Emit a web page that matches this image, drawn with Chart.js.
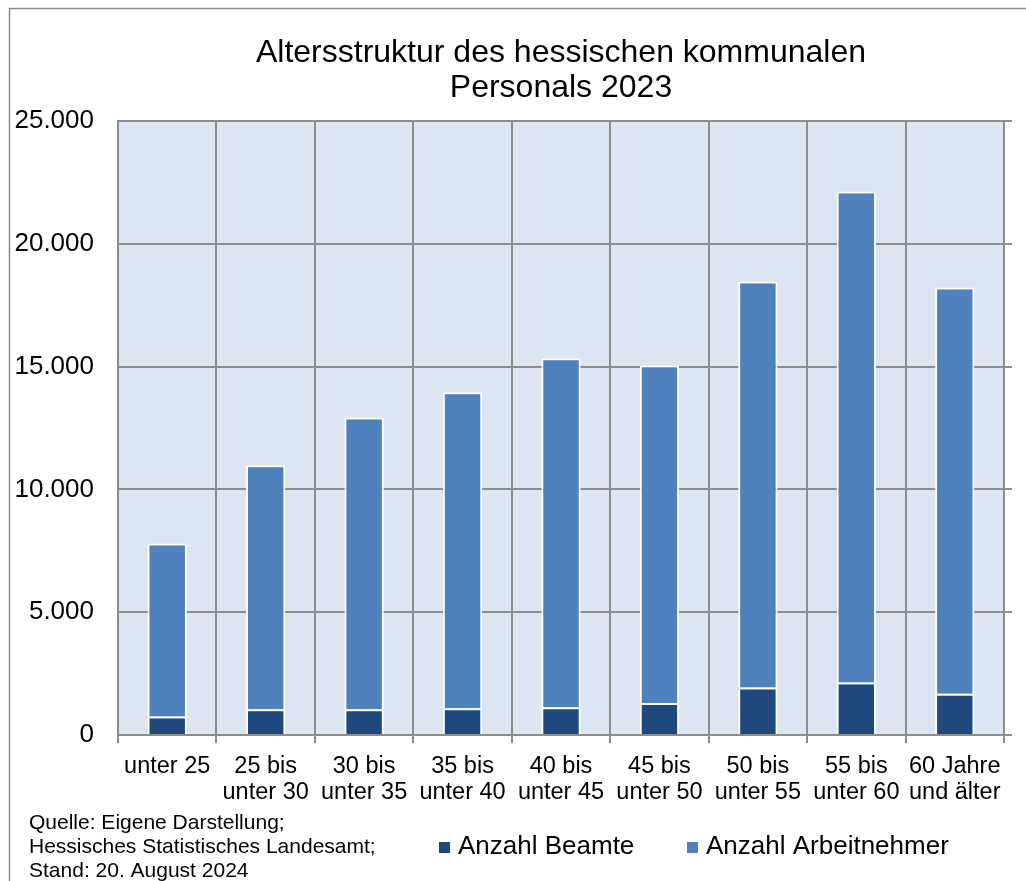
<!DOCTYPE html>
<html>
<head>
<meta charset="utf-8">
<script src="https://cdn.jsdelivr.net/npm/chart.js@4.4.1/dist/chart.umd.min.js"></script>
<style>
  html, body { margin: 0; padding: 0; background: #fff; }
  #wrap { width: 1026px; height: 881px; }
</style>
</head>
<body>
<div id="wrap"><canvas id="chart" width="1026" height="881"></canvas></div>
<script>
// Altersgruppen (x axis), two-line labels
const categories = [
  ['unter 25'],
  ['25 bis', 'unter 30'],
  ['30 bis', 'unter 35'],
  ['35 bis', 'unter 40'],
  ['40 bis', 'unter 45'],
  ['45 bis', 'unter 50'],
  ['50 bis', 'unter 55'],
  ['55 bis', 'unter 60'],
  ['60 Jahre', 'und älter']
];
// values
const beamte = [750, 1050, 1050, 1085, 1125, 1300, 1930, 2140, 1675];
const arbeitnehmer = [7050, 9930, 11880, 12875, 14215, 13740, 16530, 19990, 16545];
const seriesNames = ['Anzahl Beamte', 'Anzahl Arbeitnehmer'];
const seriesColors = ['#1f497d', '#4f81bd'];
const titleLines = ['Altersstruktur des hessischen kommunalen', 'Personals 2023'];
const sourceLines = ['Quelle: Eigene Darstellung;', 'Hessisches Statistisches Landesamt;', 'Stand: 20. August 2024'];

const FONT = '"Liberation Sans", Arial, sans-serif';
const GRID = '#8c8c8c';

const fmt = v => String(v).replace(/\B(?=(\d{3})+(?!\d))/g, '.');

// background, frame and plot area fill
const framePlugin = {
  id: 'frame',
  beforeDraw(chart) {
    const ctx = chart.ctx, a = chart.chartArea;
    ctx.save();
    ctx.fillStyle = '#fff';
    ctx.fillRect(0, 0, chart.width, chart.height);
    ctx.fillStyle = '#dce6f2';
    ctx.fillRect(a.left, a.top, a.right - a.left, a.bottom - a.top);
    ctx.strokeStyle = GRID;
    ctx.lineWidth = 1.5;
    ctx.beginPath();
    ctx.moveTo(9.5, chart.height);
    ctx.lineTo(9.5, 8.5);
    ctx.lineTo(chart.width, 8.5);
    ctx.stroke();
    ctx.restore();
  },
  afterDraw(chart) {
    const ctx = chart.ctx;
    ctx.save();
    ctx.fillStyle = '#000';
    // title
    ctx.font = '32px ' + FONT;
    ctx.textAlign = 'center';
    ctx.textBaseline = 'alphabetic';
    ctx.fillText(titleLines[0], 561, 62);
    ctx.fillText(titleLines[1], 561, 97);
    // source note
    ctx.font = '21px ' + FONT;
    ctx.textAlign = 'left';
    sourceLines.forEach((l, i) => ctx.fillText(l, 29, 829 + i * 24));
    // legend
    const legendX = [439, 687];
    ctx.font = '26px ' + FONT;
    chart.data.datasets.forEach((ds, i) => {
      ctx.fillStyle = ds.backgroundColor;
      ctx.fillRect(legendX[i], 842, 11, 11);
      ctx.fillStyle = '#000';
      ctx.fillText(ds.label, legendX[i] + 19, 854);
    });
    ctx.restore();
  }
};

new Chart(document.getElementById('chart'), {
  type: 'bar',
  data: {
    labels: categories,
    datasets: [
      { label: seriesNames[0], data: beamte, backgroundColor: seriesColors[0] },
      { label: seriesNames[1], data: arbeitnehmer, backgroundColor: seriesColors[1] }
    ]
  },
  options: {
    responsive: false,
    animation: false,
    layout: { padding: { top: 121, left: 0, right: 0, bottom: 0 } },
    datasets: {
      bar: {
        categoryPercentage: 1,
        barPercentage: 0.4,
        borderColor: '#fff',
        borderWidth: 2
      }
    },
    plugins: {
      legend: { display: false },
      title: { display: false },
      tooltip: { enabled: false }
    },
    scales: {
      x: {
        stacked: true,
        z: 1,
        grid: { color: GRID, lineWidth: 2, tickLength: 8, offset: true },
        border: { display: true, color: GRID, width: 2 },
        ticks: {
          color: '#000',
          padding: 11,
          maxRotation: 0,
          autoSkip: false,
          font: { family: FONT, size: 23.5, lineHeight: 1.09 }
        },
        afterFit: s => { s.height = 146; }
      },
      y: {
        stacked: true,
        min: 0,
        max: 25000,
        grid: { color: GRID, lineWidth: 2, drawTicks: false },
        border: { display: true, color: GRID, width: 2 },
        ticks: {
          stepSize: 5000,
          color: '#000',
          padding: 24,
          font: { family: FONT, size: 26 },
          callback: v => fmt(v)
        },
        afterFit: s => { s.width = 118; }
      },
      y2: {
        position: 'right',
        min: 0,
        max: 25000,
        grid: { color: GRID, lineWidth: 2, drawOnChartArea: false, tickLength: 8 },
        border: { display: false },
        ticks: { stepSize: 5000, display: false },
        afterFit: s => { s.width = 22; }
      }
    }
  },
  plugins: [framePlugin]
});
</script>
</body>
</html>
